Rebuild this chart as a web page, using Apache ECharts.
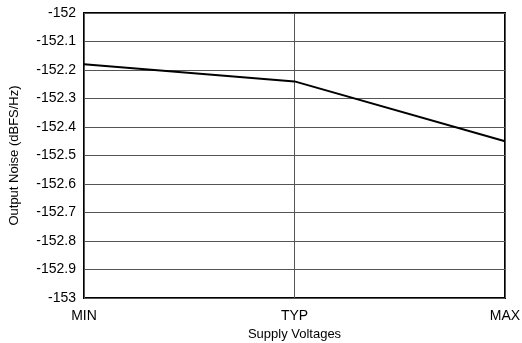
<!DOCTYPE html>
<html><head><meta charset="utf-8">
<script src="https://cdn.jsdelivr.net/npm/echarts@6/dist/echarts.min.js"></script>
<style>html,body{margin:0;padding:0;background:#fff}#c{width:522px;height:343px}</style>
</head><body><div id="c"></div>
<script>
var categories = ['MIN', 'TYP', 'MAX'];
var noise = [-152.18, -152.24, -152.45];
var yTicks = { min: -153, max: -152, interval: 0.1 };

var chart = echarts.init(document.getElementById('c'), null, {renderer: 'canvas'});
var font = 'Liberation Sans, Arial, Helvetica, sans-serif';
chart.setOption({
  animation: false,
  grid: { left: 84, right: 17, top: 13, bottom: 45, show: true, borderColor: '#000', borderWidth: 2, backgroundColor: 'transparent', containLabel: false, outerBoundsMode: 'none' },
  xAxis: {
    type: 'category', data: categories, boundaryGap: false,
    name: 'Supply Voltages', nameLocation: 'middle', nameGap: 27,
    nameTextStyle: { fontFamily: font, fontSize: 13, color: '#000' },
    axisLine: { show: false }, axisTick: { show: false },
    axisLabel: { fontFamily: font, fontSize: 14, color: '#000', margin: 11 },
    splitLine: { show: true, lineStyle: { color: '#555', width: 1 } }
  },
  yAxis: {
    type: 'value', min: yTicks.min, max: yTicks.max, interval: yTicks.interval,
    name: 'Output Noise (dBFS/Hz)', nameLocation: 'middle', nameGap: 63,
    nameTextStyle: { fontFamily: font, fontSize: 13, color: '#000' },
    axisLine: { show: false }, axisTick: { show: false },
    axisLabel: { fontFamily: font, fontSize: 14, color: '#000', margin: 8,
      formatter: function (v) { return String(Math.round(v * 10) / 10); } },
    splitLine: { show: true, lineStyle: { color: '#555', width: 1 } }
  },
  series: [{
    type: 'line', data: noise, symbol: 'none',
    lineStyle: { color: '#000', width: 2 }
  }]
});
</script></body></html>
